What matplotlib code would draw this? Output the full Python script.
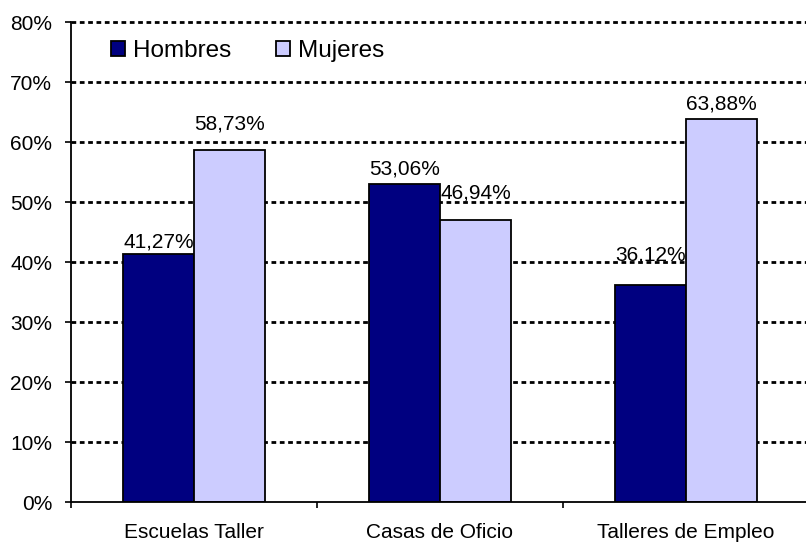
import matplotlib.pyplot as plt
import matplotlib.ticker as ticker
import numpy as np

plt.rcParams['font.family'] = ['Liberation Sans', 'DejaVu Sans']

categories = ["Escuelas Taller", "Casas de Oficio", "Talleres de Empleo"]
hombres = [41.27, 53.06, 36.12]
mujeres = [58.73, 46.94, 63.88]
series_names = ["Hombres", "Mujeres"]

colors = {"Hombres": "#000080", "Mujeres": "#ccccff"}
# label lift above bar top, in points (labels were nudged by hand in the original)
lift_h = [5, 6.5, 18]
lift_m = [14.5, 16, 6.5]

fig = plt.figure(figsize=(8.06, 5.44), dpi=100)
ax = fig.add_axes([71/806, 42/544, 738/806, 480/544])

x = np.arange(len(categories))
w = 0.29
bh = ax.bar(x - w/2, hombres, w, color=colors["Hombres"], edgecolor='black', linewidth=1.3, zorder=3, label=series_names[0])
bm = ax.bar(x + w/2, mujeres, w, color=colors["Mujeres"], edgecolor='black', linewidth=1.3, zorder=3, label=series_names[1])

def fmt(v):
    return ("%.2f%%" % v).replace('.', ',')

for bars, vals, lifts in ((bh, hombres, lift_h), (bm, mujeres, lift_m)):
    for b, v, l in zip(bars, vals, lifts):
        ax.annotate(fmt(v), (b.get_x() + b.get_width()/2, v), xytext=(0, l),
                    textcoords='offset points', ha='center', va='baseline',
                    fontsize=15, zorder=5)

ax.set_xlim(-0.5, 2.5)
ax.set_ylim(0, 80)
ax.yaxis.set_major_locator(ticker.MultipleLocator(10))
ax.yaxis.set_major_formatter(ticker.FuncFormatter(lambda v, p: "%d%%" % v))
for yv in range(10, 81, 10):
    ax.axhline(yv, color='black', linewidth=2.0, linestyle=(0, (1.7, 1.3)), zorder=1, clip_on=False)

ax.set_xticks([-0.5, 0.5, 1.5, 2.5])
ax.set_xticklabels([])
ax.set_xticks(x, minor=True)
ax.set_xticklabels(categories, minor=True)
ax.tick_params(axis='x', which='major', direction='out', length=4.5, width=1.2)
ax.tick_params(axis='x', which='minor', length=0, pad=15, labelsize=15)
ax.tick_params(axis='y', direction='out', length=4.5, width=1.2, pad=9, labelsize=15)

ax.spines['top'].set_visible(False)
ax.spines['right'].set_visible(False)
ax.spines['left'].set_linewidth(1.3)
ax.spines['bottom'].set_linewidth(1.3)
ax.spines['left'].set_zorder(4)
ax.spines['bottom'].set_zorder(4)

ax.legend(loc='center left', bbox_to_anchor=(40/738, 451/480), ncol=2, frameon=False,
          fontsize=17.5, handlelength=0.58, handleheight=0.58, handletextpad=0.33,
          columnspacing=1.85, borderpad=0, borderaxespad=0)

fig.savefig('out.png', dpi=100)
